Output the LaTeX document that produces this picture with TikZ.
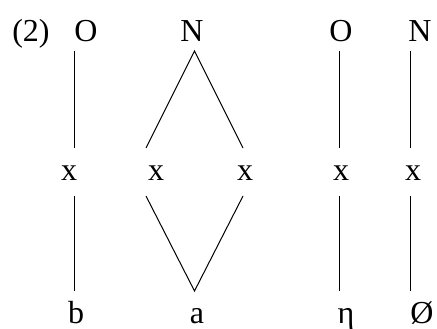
\documentclass[tikz,border=0pt]{standalone}
\usepackage{fontspec}
\setmainfont{Liberation Serif}
\usetikzlibrary{positioning}

\tikzset{
  seg/.style={anchor=base, inner sep=0pt, font=\fontsize{32}{38}\selectfont},
  assoc/.style={line width=1pt}
}

\begin{document}
\begin{tikzpicture}[x=1pt,y=1pt]
  \useasboundingbox (0,0) rectangle (437,329);
  % tiers
  \node[seg] (num) at (31,287) {(2)};
  \node[seg] (o1) at (86,287) {O};
  \node[seg] (n1) at (192,287) {N};
  \node[seg] (o2) at (341,287) {O};
  \node[seg] (n2) at (420,287) {N};
  \node[seg] (x1) at (69,148) {x};
  \node[seg] (x2) at (156,148) {x};
  \node[seg] (x3) at (245,148) {x};
  \node[seg] (x4) at (341,148) {x};
  \node[seg] (x5) at (413,148) {x};
  \node[seg] (sb) at (76,5) {b};
  \node[seg] (sa) at (197,5) {a};
  \node[seg] (seta) at (346,5) {η};
  \node[seg] (szero) at (422,5) {Ø};
  % association lines
  \draw[assoc] ([xshift=-11.5pt,yshift=-9pt]o1.base) -- ([xshift=5.5pt,yshift=33pt]x1.base);
  \draw[assoc] ([xshift=5.5pt,yshift=-15pt]x1.base) -- ([xshift=-1.5pt,yshift=33pt]sb.base);
  \draw[assoc] ([xshift=-10pt,yshift=33pt]x2.base) -- ([xshift=2.5pt,yshift=-9pt]n1.base)
    -- ([xshift=-2pt,yshift=33pt]x3.base);
  \draw[assoc] ([xshift=-10pt,yshift=-15pt]x2.base) -- ([xshift=-2.5pt,yshift=33pt]sa.base)
    -- ([xshift=-2pt,yshift=-15pt]x3.base);
  \draw[assoc] ([xshift=-2pt,yshift=-9pt]o2.base) -- ([xshift=-2pt,yshift=33pt]x4.base);
  \draw[assoc] ([xshift=-2pt,yshift=-15pt]x4.base) -- ([xshift=-7pt,yshift=33pt]seta.base);
  \draw[assoc] ([xshift=-9.5pt,yshift=-9pt]n2.base) -- ([xshift=-2.5pt,yshift=33pt]x5.base);
  \draw[assoc] ([xshift=-2.5pt,yshift=-15pt]x5.base) -- ([xshift=-11.5pt,yshift=33pt]szero.base);
\end{tikzpicture}
\end{document}
